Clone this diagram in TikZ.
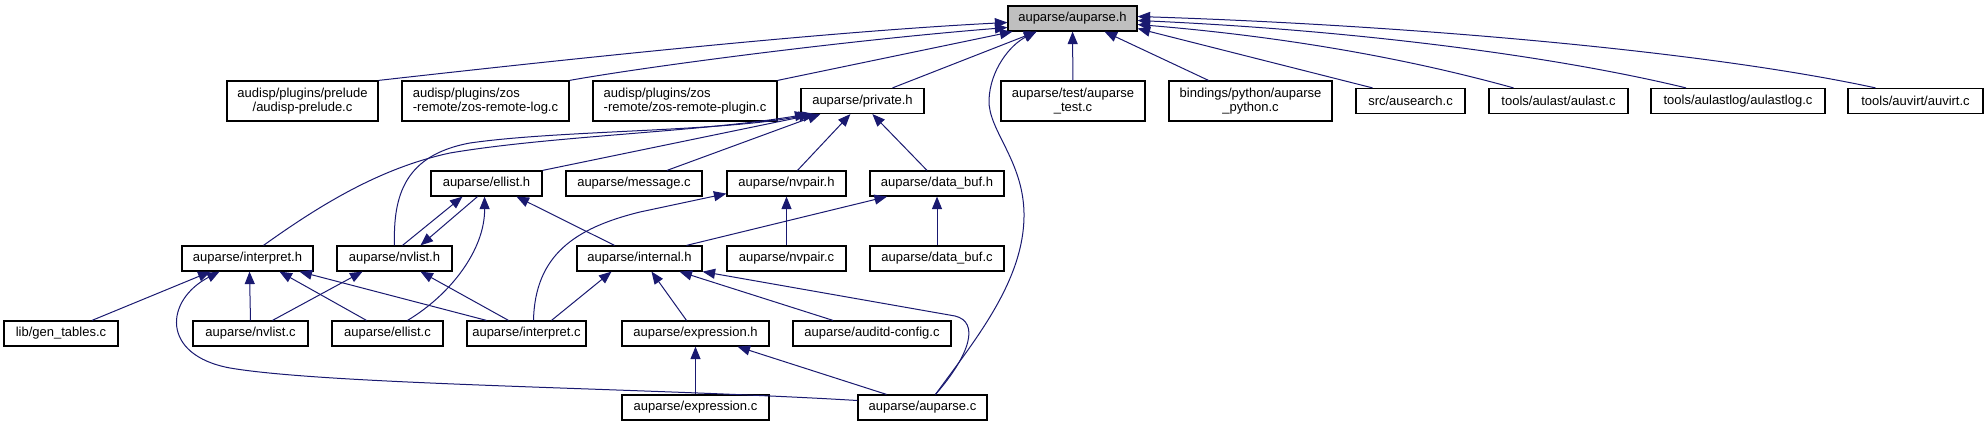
\documentclass[tikz,border=0pt]{standalone}
\usepackage{fontspec}
\setmainfont{Liberation Sans}
\usetikzlibrary{arrows.meta,positioning,calc}

\definecolor{midblue}{HTML}{191970}
\definecolor{rootgray}{HTML}{BFBFBF}

\begin{document}
\begin{tikzpicture}[x=1pt, y=-1pt,
    file/.style={draw, rectangle, line width=1.2pt, inner sep=0pt, minimum height=25, fill=white, font=\fontsize{13}{14.7}\selectfont},
    filetwo/.style={file, minimum height=40, align=center},
    filetwol/.style={file, minimum height=40, align=left},
    root/.style={file, fill=rootgray},
    edge/.style={-{Triangle[length=12.5pt,width=10pt]}, line width=1pt, draw=midblue},
]

\useasboundingbox (0,0) rectangle (1988,427);

% Root header
\node[root, minimum width=129] (auparseh) at (1072.5,18.5) {auparse/auparse.h};

% Direct includers
\node[filetwo, minimum width=151] (prelude) at (302.5,101) {audisp/plugins/prelude\\/audisp-prelude.c};
\node[filetwol, minimum width=167] (zoslog) at (485.5,101) {audisp/plugins/zos\\-remote/zos-remote-log.c};
\node[filetwol, minimum width=184] (zosplugin) at (685,101) {audisp/plugins/zos\\-remote/zos-remote-plugin.c};
\node[file, minimum width=123] (privateh) at (862.5,101) {auparse/private.h};
\node[filetwo, minimum width=144] (auparsetest) at (1073,101) {auparse/test/auparse\\\_test.c};
\node[filetwo, minimum width=163] (pybind) at (1250.5,101) {bindings/python/auparse\\\_python.c};
\node[file, minimum width=109] (ausearch) at (1410.5,101) {src/ausearch.c};
\node[file, minimum width=139] (aulast) at (1558.5,101) {tools/aulast/aulast.c};
\node[file, minimum width=174] (aulastlog) at (1738,101) {tools/aulastlog/aulastlog.c};
\node[file, minimum width=135] (auvirt) at (1915.5,101) {tools/auvirt/auvirt.c};

% Second level
\node[file, minimum width=111] (ellisth) at (486.5,183.5) {auparse/ellist.h};
\node[file, minimum width=136] (messagec) at (634,183.5) {auparse/message.c};
\node[file, minimum width=119] (nvpairh) at (786.5,183.5) {auparse/nvpair.h};
\node[file, minimum width=134] (databufh) at (937,183.5) {auparse/data\_buf.h};

% Third level
\node[file, minimum width=131] (interpreth) at (247.5,258.5) {auparse/interpret.h};
\node[file, minimum width=115] (nvlisth) at (394.5,258.5) {auparse/nvlist.h};
\node[file, minimum width=125] (internalh) at (639.5,258.5) {auparse/internal.h};
\node[file, minimum width=119] (nvpairc) at (786.5,258.5) {auparse/nvpair.c};
\node[file, minimum width=134] (databufc) at (937,258.5) {auparse/data\_buf.c};

% Fourth level
\node[file, minimum width=114] (gentables) at (61,333.5) {lib/gen\_tables.c};
\node[file, minimum width=115] (nvlistc) at (250.5,333.5) {auparse/nvlist.c};
\node[file, minimum width=111] (ellistc) at (387.5,333.5) {auparse/ellist.c};
\node[file, minimum width=119] (interpretc) at (526.5,333.5) {auparse/interpret.c};
\node[file, minimum width=147] (expressionh) at (695.5,333.5) {auparse/expression.h};
\node[file, minimum width=158] (auditdconfig) at (872,333.5) {auparse/auditd-config.c};

% Bottom level
\node[file, minimum width=147] (expressionc) at (695.5,407.5) {auparse/expression.c};
\node[file, minimum width=129] (auparsec) at (922.5,407.5) {auparse/auparse.c};

% Includers of auparse.h
\draw[edge] (prelude.north east) .. controls (560,60) and (820,32) .. ([yshift=-4]auparseh.west);
\draw[edge] (zoslog.north east) .. controls (650,66) and (850,40) .. ([yshift=-9]auparseh.west);
\draw[edge] (zosplugin.north east) -- ([xshift=5]auparseh.south west);
\draw[edge] ([xshift=30]privateh.north) -- ([xshift=-36]auparseh.south);
\draw[edge] (auparsetest) -- (auparseh);
\draw[edge] ([xshift=-42]pybind.north) -- ([xshift=32]auparseh.south);
\draw[edge] ([xshift=-38]ausearch.north) -- ([yshift=-10]auparseh.east);
\draw[edge] ([xshift=-45]aulast.north) .. controls (1420,62) and (1300,38) .. ([yshift=-6]auparseh.east);
\draw[edge] ([xshift=-52]aulastlog.north) .. controls (1550,55) and (1350,30) .. ([yshift=-2]auparseh.east);
\draw[edge] ([xshift=-40]auvirt.north) .. controls (1700,50) and (1400,25) .. ([yshift=2]auparseh.east);
\draw[edge] ([xshift=13]auparsec.north) .. controls (975,340) and (1025,280) .. (1024,213)
    .. controls (1023,160) and (988,130) .. (989,100)
    .. controls (990,70) and (1010,45) .. ([xshift=-36]auparseh.south);

% Includers of private.h
\draw[edge] ([xshift=16]interpreth.north) .. controls (320,205) and (380,168) .. (450,153)
    .. controls (550,136) and (700,132) .. ([xshift=7]privateh.south west);
\draw[edge] (nvlisth.north) .. controls (393,195) and (405,155) .. (470,143)
    .. controls (560,130) and (720,132) .. ([xshift=11]privateh.south west);
\draw[edge] (ellisth.north east) -- ([xshift=15]privateh.south west);
\draw[edge] ([xshift=33]messagec.north) -- ([xshift=20]privateh.south west);
\draw[edge] ([xshift=11]nvpairh.north) -- ([xshift=50]privateh.south west);
\draw[edge] ([xshift=-10]databufh.north) -- ([xshift=72]privateh.south west);

% Includers of ellist.h
\draw[edge] ([xshift=8]nvlisth.north) -- ([xshift=-24]ellisth.south);
\draw[edge] ([xshift=-9]ellisth.south) -- ([xshift=26]nvlisth.north);
\draw[edge] ([xshift=20]ellistc.north) .. controls (450,295) and (485,250) .. ([xshift=-2]ellisth.south);
\draw[edge] ([xshift=-25]internalh.north) -- ([xshift=30]ellisth.south);

% Includers of nvpair.h and data_buf.h
\draw[edge] ([xshift=7]interpretc.north) .. controls (535,255) and (575,228) .. (640,212) -- ([yshift=3]nvpairh.south west);
\draw[edge] (nvpairc) -- (nvpairh);
\draw[edge] ([xshift=47]internalh.north) -- ([xshift=-50]databufh.south);
\draw[edge] (databufc) -- (databufh);

% Includers of interpret.h
\draw[edge] ([xshift=31]gentables.north) -- ([xshift=-37]interpreth.south);
\draw[edge] (nvlistc.north) -- ([xshift=2]interpreth.south);
\draw[edge] ([xshift=-21]ellistc.north) -- ([xshift=32]interpreth.south);
\draw[edge] ([xshift=-40]interpretc.north) -- ([xshift=52]interpreth.south);
\draw[edge] ([yshift=7]auparsec.west) .. controls (650,388) and (330,385) .. (230,368)
    .. controls (160,355) and (165,300) .. ([xshift=-28]interpreth.south);

% Includers of nvlist.h
\draw[edge] ([xshift=22]nvlistc.north) -- ([xshift=-32]nvlisth.south);
\draw[edge] ([xshift=-18]interpretc.north) -- ([xshift=26]nvlisth.south);

% Includers of internal.h
\draw[edge] ([xshift=25]interpretc.north) -- ([xshift=-28]internalh.south);
\draw[edge] ([xshift=-9]expressionh.north) -- ([xshift=12]internalh.south);
\draw[edge] ([xshift=-39]auditdconfig.north) -- ([xshift=40]internalh.south);
\draw[edge] ([xshift=13]auparsec.north) .. controls (970,355) and (980,322) .. (955,316) -- (internalh.south east);

% Includers of expression.h
\draw[edge] (expressionc) -- (expressionh);
\draw[edge] ([xshift=-36]auparsec.north) -- ([xshift=42]expressionh.south);

\end{tikzpicture}
\end{document}
